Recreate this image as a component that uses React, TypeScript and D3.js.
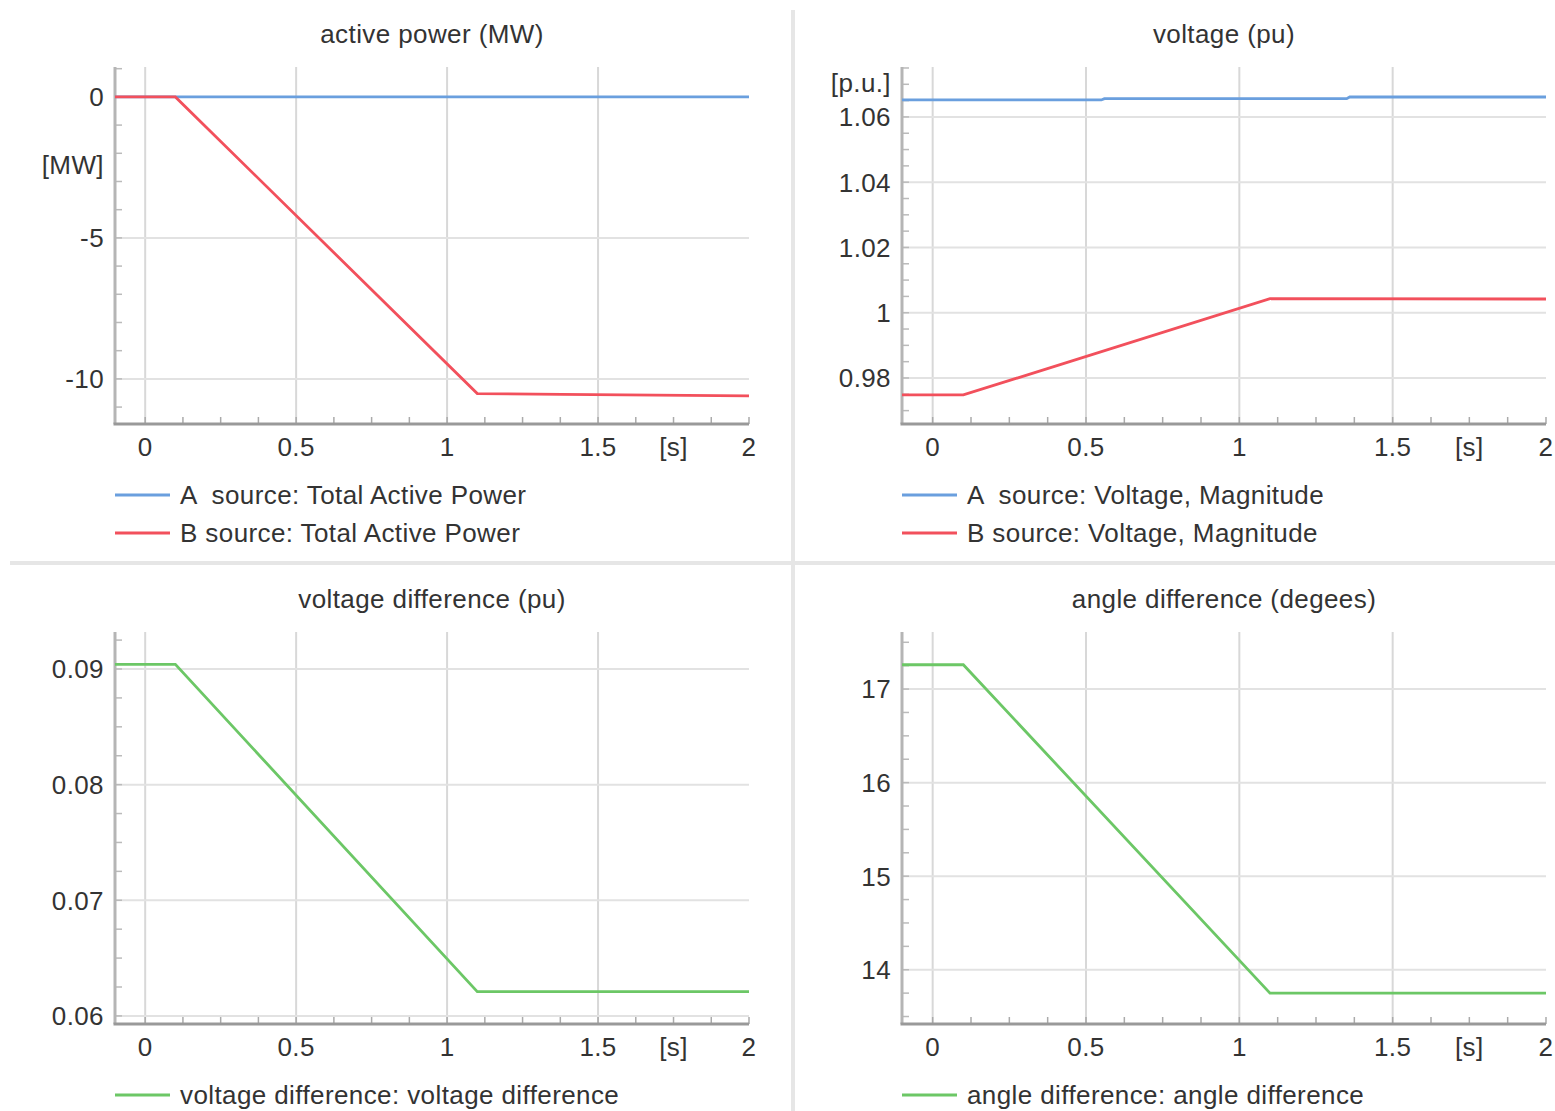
import React from 'react';
import * as d3 from 'd3';

// time axis shared by all four plots (seconds)
const xTickValues = [0, 0.5, 1, 1.5, 2];
const xTickLabels = ['0', '0.5', '1', '1.5', '2'];

const activeTime = [-0.1, 0.1, 1.1, 1.38, 2];
const activePowerA = [0, 0, 0, 0, 0];
const activePowerB = [0, 0, -10.52, -10.55, -10.6];

const voltageTimeA = [-0.1, 0.55, 0.56, 1.35, 1.36, 2];
const voltageA = [1.0652, 1.0652, 1.0656, 1.0656, 1.0661, 1.0661];
const voltageTimeB = [-0.1, 0.1, 1.1, 2];
const voltageB = [0.9748, 0.9748, 1.0043, 1.0042];

const diffTime = [-0.1, 0.1, 1.1, 2];
const voltageDiff = [0.0904, 0.0904, 0.0621, 0.0621];
const angleDiff = [17.26, 17.26, 13.75, 13.75];

const BLUE = '#6a9fde';
const RED = '#f2505c';
const GREEN = '#6cc766';
const TEXT = '#333';
const FONT = '"Liberation Sans", Arial, sans-serif';
const FS = 26;
const LS = 0.4;

type Series = { t: number[]; v: number[]; color: string; label: string };

type PanelProps = {
  left: number;
  right: number;
  top: number;
  bottom: number;
  title: string;
  yDomain: [number, number];
  yTicks: number[];
  yLabels: string[];
  yMinorStep: number;
  unit: string;
  unitAt: number;
  series: Series[];
};

function Panel(props: PanelProps) {
  const { left, right, top, bottom, title, yDomain, yTicks, yLabels, yMinorStep, unit, unitAt, series } = props;
  const x = d3.scaleLinear().domain([-0.1, 2]).range([left, right]);
  const y = d3.scaleLinear().domain(yDomain).range([bottom, top]);

  const xMinor = d3.range(0, 2.0001, 0.125);
  const yMinor = d3.range(Math.ceil(yDomain[0] / yMinorStep), Math.floor(yDomain[1] / yMinorStep) + 1).map(i => i * yMinorStep);

  const line = d3
    .line<[number, number]>()
    .x(d => x(d[0]))
    .y(d => y(d[1]));

  return (
    <g>
      <text x={(left + right) / 2} y={top - 24} textAnchor="middle" fontSize={FS} letterSpacing={LS} fill={TEXT}>
        {title}
      </text>

      {/* grid */}
      {xTickValues.slice(0, 4).map(t => (
        <line key={'gx' + t} x1={x(t)} x2={x(t)} y1={top} y2={bottom} stroke="#d8d8d8" strokeWidth={2} />
      ))}
      {yTicks.map(v => (
        <line key={'gy' + v} x1={left} x2={right} y1={y(v)} y2={y(v)} stroke="#e2e2e2" strokeWidth={2} />
      ))}

      {/* minor ticks */}
      {xMinor.map(t => (
        <line key={'mx' + t} x1={x(t)} x2={x(t)} y1={bottom} y2={bottom - 7} stroke="#aaa" strokeWidth={1.5} />
      ))}
      {yMinor.map(v => (
        <line key={'my' + v} x1={left} x2={left + 7} y1={y(v)} y2={y(v)} stroke="#bbb" strokeWidth={1.5} />
      ))}

      {/* axes */}
      <line x1={left} x2={left} y1={top} y2={bottom} stroke="#b5b5b5" strokeWidth={3} />
      <line x1={left - 1.5} x2={right} y1={bottom} y2={bottom} stroke="#999" strokeWidth={3} />

      {xTickValues.map((t, i) => (
        <text key={'xl' + t} x={x(t)} y={bottom + 32} textAnchor="middle" fontSize={FS} letterSpacing={LS} fill={TEXT}>
          {xTickLabels[i]}
        </text>
      ))}
      <text x={x(1.75)} y={bottom + 32} textAnchor="middle" fontSize={FS} letterSpacing={LS} fill={TEXT}>
        [s]
      </text>

      {yTicks.map((v, i) => (
        <text key={'yl' + v} x={left - 11} y={y(v)} dy="0.36em" textAnchor="end" fontSize={FS} letterSpacing={LS} fill={TEXT}>
          {yLabels[i]}
        </text>
      ))}
      <text x={left - 11} y={y(unitAt)} dy="0.36em" textAnchor="end" fontSize={FS} letterSpacing={LS} fill={TEXT}>
        {unit}
      </text>

      {series.map(s => (
        <path
          key={s.label}
          d={line(s.t.map((t, i) => [t, s.v[i]] as [number, number])) || ''}
          fill="none"
          stroke={s.color}
          strokeWidth={2.8}
        />
      ))}

      {series.map((s, i) => (
        <g key={'lg' + s.label} transform={`translate(${left},${bottom + 71 + i * 38})`}>
          <line x1={0} x2={55} y1={0} y2={0} stroke={s.color} strokeWidth={3} />
          <text x={65} y={0} dy="0.36em" fontSize={FS} letterSpacing={LS} fill={TEXT} style={{ whiteSpace: 'pre' }}>
            {s.label}
          </text>
        </g>
      ))}
    </g>
  );
}

export default function App() {
  return (
    <svg
      width={1555}
      height={1111}
      viewBox="0 0 1555 1111"
      style={{ position: 'absolute', left: 0, top: 0, background: '#fff' }}
      fontFamily={FONT}
    >
      <line x1={793} x2={793} y1={10} y2={1111} stroke="#e6e6e6" strokeWidth={4} />
      <line x1={10} x2={1555} y1={563} y2={563} stroke="#e6e6e6" strokeWidth={4} />

      <Panel
        left={115}
        right={749}
        top={67}
        bottom={424}
        title="active power (MW)"
        yDomain={[-11.6, 1.06]}
        yTicks={[0, -5, -10]}
        yLabels={['0', '-5', '-10']}
        yMinorStep={1}
        unit="[MW]"
        unitAt={-2.4}
        series={[
          { t: activeTime, v: activePowerA, color: BLUE, label: 'A  source: Total Active Power' },
          { t: activeTime, v: activePowerB, color: RED, label: 'B source: Total Active Power' },
        ]}
      />
      <Panel
        left={902}
        right={1546}
        top={67}
        bottom={424}
        title="voltage (pu)"
        yDomain={[0.9659, 1.0753]}
        yTicks={[1.06, 1.04, 1.02, 1, 0.98]}
        yLabels={['1.06', '1.04', '1.02', '1', '0.98']}
        yMinorStep={0.005}
        unit="[p.u.]"
        unitAt={1.0705}
        series={[
          { t: voltageTimeA, v: voltageA, color: BLUE, label: 'A  source: Voltage, Magnitude' },
          { t: voltageTimeB, v: voltageB, color: RED, label: 'B source: Voltage, Magnitude' },
        ]}
      />
      <Panel
        left={115}
        right={749}
        top={632}
        bottom={1024}
        title="voltage difference (pu)"
        yDomain={[0.0593, 0.0932]}
        yTicks={[0.09, 0.08, 0.07, 0.06]}
        yLabels={['0.09', '0.08', '0.07', '0.06']}
        yMinorStep={0.0025}
        unit=""
        unitAt={0.075}
        series={[{ t: diffTime, v: voltageDiff, color: GREEN, label: 'voltage difference: voltage difference' }]}
      />
      <Panel
        left={902}
        right={1546}
        top={632}
        bottom={1024}
        title="angle difference (degees)"
        yDomain={[13.42, 17.61]}
        yTicks={[17, 16, 15, 14]}
        yLabels={['17', '16', '15', '14']}
        yMinorStep={0.25}
        unit=""
        unitAt={15.5}
        series={[{ t: diffTime, v: angleDiff, color: GREEN, label: 'angle difference: angle difference' }]}
      />
    </svg>
  );
}
